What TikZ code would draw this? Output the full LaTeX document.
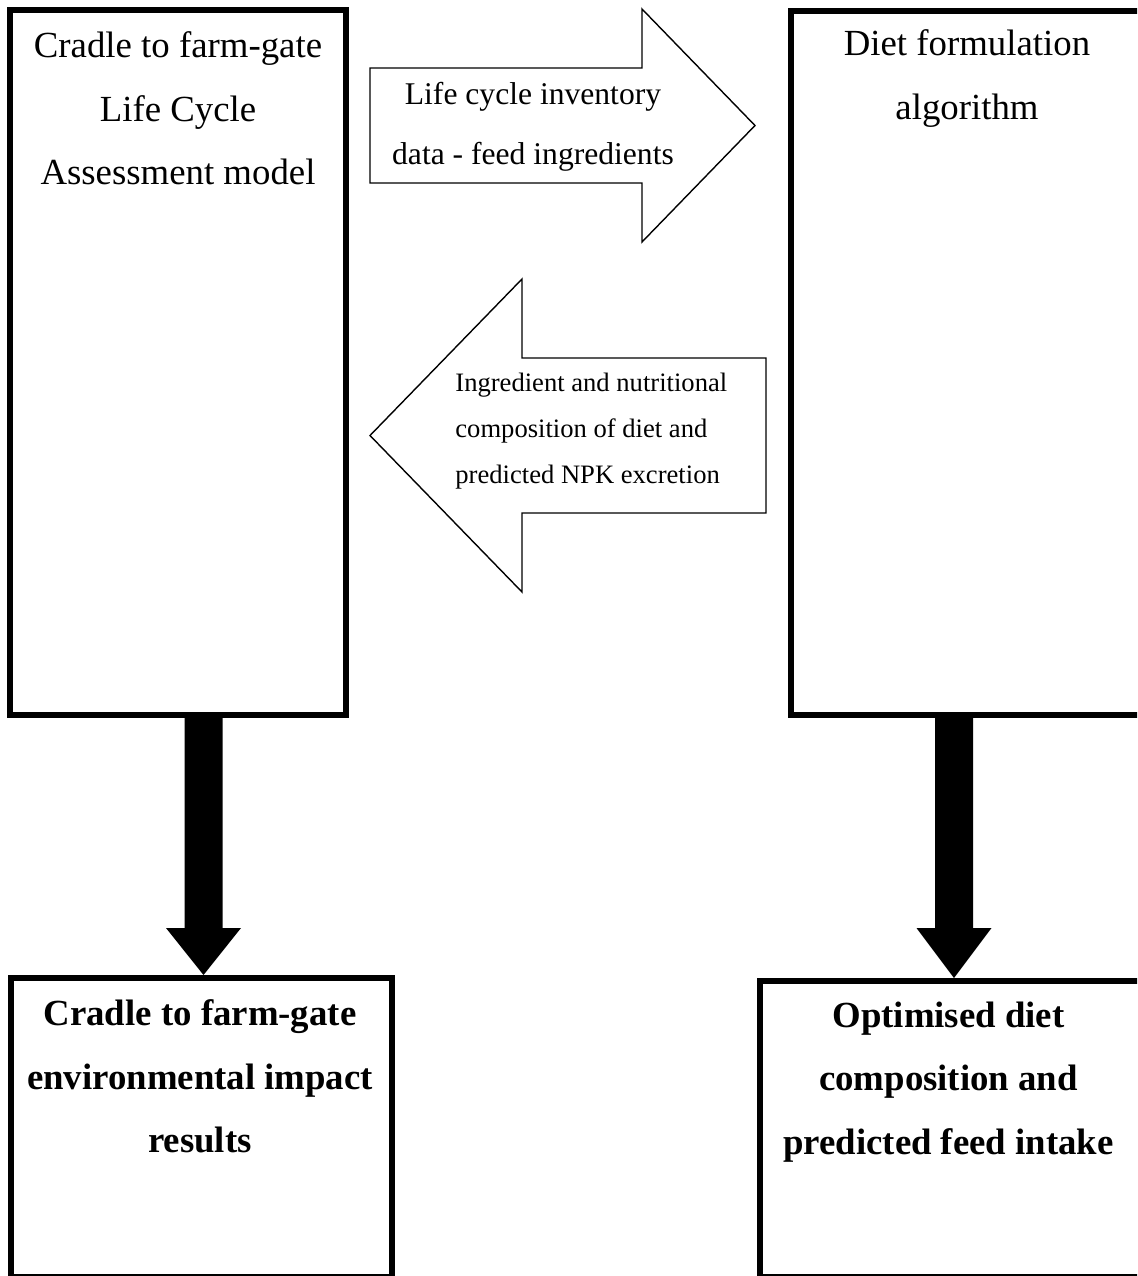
\documentclass[tikz,border=0pt]{standalone}
\usepackage{fontspec}
\setmainfont{Liberation Serif}
\usetikzlibrary{calc}
\begin{document}
\begin{tikzpicture}[x=0.5pt,y=-0.5pt,
  panel/.style={draw, line width=3pt, inner sep=0pt, outer sep=0pt, anchor=north west},
  boxtext/.style={font=\fontsize{18.4pt}{31.75pt}\selectfont, align=center, anchor=base, inner sep=0pt},
  resulttext/.style={font=\bfseries\fontsize{18.4pt}{31.75pt}\selectfont, align=center, anchor=base, inner sep=0pt},
  hollow/.style={draw, line width=0.7pt, line join=miter, fill=white},
  heavy/.style={fill=black}]
\useasboundingbox (0,0) rectangle (1137,1276);
\begin{scope}
\clip (0,0) rectangle (1137,1276);

% the four frames
\node[panel, minimum width=168pt, minimum height=352.5pt] (lca) at (10,10) {};
\node[panel, minimum width=177pt, minimum height=352pt] (diet) at (791,11) {};
\node[panel, minimum width=190.5pt, minimum height=149.5pt] (res) at (11,978) {};
\node[panel, minimum width=192.5pt, minimum height=148pt] (opt) at (760,981) {};

% frame captions (placed by the baseline of their last line)
\node[boxtext] (lcaT) at (178,184.5) {Cradle to farm-gate\\Life Cycle\\Assessment model};
\node[boxtext] (dietT) at (967,119) {Diet formulation\\algorithm};
\node[resulttext] (resT) at (200,1152.5) {Cradle to farm-gate\\environmental impact\\results};
\node[resulttext] (optT) at (948.5,1154) {Optimised diet\\composition and\\predicted feed intake};

% hollow block arrows between the models
\draw[hollow] (370,68) -- (642,68) -- (642,9) -- (755,125.5) -- (642,242) -- (642,183) -- (370,183) -- cycle;
\node[font=\fontsize{15.8pt}{30pt}\selectfont, align=center, anchor=base, inner sep=0pt] (lciT) at (533,164)
  {Life cycle inventory\\data - feed ingredients};

\draw[hollow] (766,358) -- (522,358) -- (522,279) -- (370,435.5) -- (522,592) -- (522,513) -- (766,513) -- cycle;
\node[font=\fontsize{13.3pt}{23pt}\selectfont, align=left, anchor=base west, inner sep=0pt] (compT) at (455,483)
  {Ingredient and nutritional\\composition of diet and\\predicted NPK excretion};

% heavy arrows down to the results
\coordinate (lx) at (203.5,0);
\coordinate (rx) at (954,0);
\fill[heavy] let \p1=(lx |- lca.south), \p2=(lx |- res.north) in
  (\x1-9.5pt,\y1) -- (\x1+9.5pt,\y1) -- (\x1+9.5pt,\y2+25pt) -- (\x1+18.75pt,\y2+25pt)
  -- (\x2,\y2+1.5pt) -- (\x1-18.75pt,\y2+25pt) -- (\x1-9.5pt,\y2+25pt) -- cycle;
\fill[heavy] let \p1=(rx |- diet.south), \p2=(rx |- opt.north) in
  (\x1-9.5pt,\y1) -- (\x1+9.5pt,\y1) -- (\x1+9.5pt,\y2+26.5pt) -- (\x1+18.75pt,\y2+26.5pt)
  -- (\x2,\y2+1.5pt) -- (\x1-18.75pt,\y2+26.5pt) -- (\x1-9.5pt,\y2+26.5pt) -- cycle;
\end{scope}
\end{tikzpicture}
\end{document}
